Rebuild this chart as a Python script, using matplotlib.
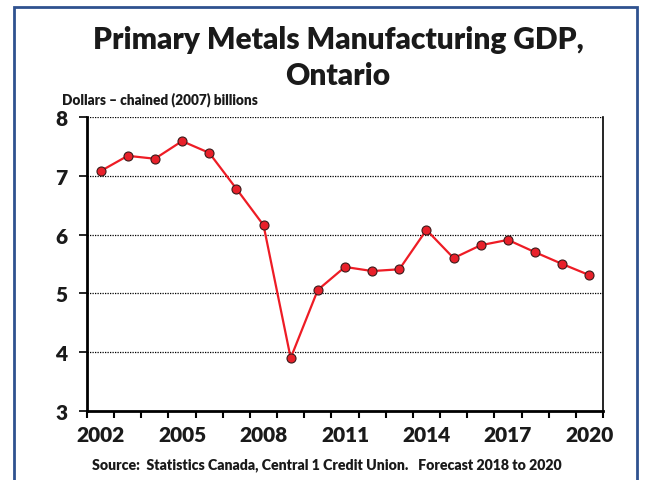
import matplotlib.pyplot as plt
from matplotlib.patches import Rectangle
import numpy as np

years = list(range(2002, 2021))
gdp = [7.08, 7.34, 7.29, 7.59, 7.39, 6.78, 6.16, 3.90, 5.06, 5.45,
       5.38, 5.41, 6.08, 5.60, 5.82, 5.91, 5.70, 5.50, 5.31]
tick_years = [2002, 2005, 2008, 2011, 2014, 2017, 2020]
yticks = [3, 4, 5, 6, 7, 8]

plt.rcParams['font.family'] = ['Lato', 'DejaVu Sans']
txt = '#1a1a1a'

fig = plt.figure(figsize=(6.51, 4.81), dpi=100)
fig.patches.append(Rectangle((14/651, -0.05), 623/651, 1.05 - 8/481, transform=fig.transFigure,
                             fill=False, edgecolor='#2f528f', linewidth=2))

ax = fig.add_axes([87/651, 1 - 412/481, 516/651, 294/481])
x = np.arange(len(years))
ax.plot(x, gdp, color='#ee1c25', linewidth=1.6, marker='o', markersize=6.5,
        markerfacecolor='#e8202a', markeredgecolor='#3a1a1a', markeredgewidth=0.8, zorder=3)

ax.set_xlim(-0.5, len(years) - 0.5)
ax.set_ylim(3, 8)
ax.set_xticks(np.arange(len(years) + 1) - 0.5)
ax.set_xticklabels([])
ax.set_xticks([years.index(y) for y in tick_years], minor=True)
ax.set_xticklabels([str(y) for y in tick_years], minor=True, fontsize=15, fontweight='heavy', color=txt)
ax.tick_params(axis='x', which='major', length=5, width=1.5, direction='out')
ax.tick_params(axis='x', which='minor', length=0, pad=10)
ax.set_yticks(yticks)
ax.set_yticklabels([str(v) for v in yticks], fontsize=15, fontweight='heavy', color=txt)
ax.tick_params(axis='y', length=6, width=1.2, direction='out', pad=8)

for v in yticks[1:]:
    ax.axhline(v, color='black', linestyle=(0, (1, 1)), linewidth=0.9, zorder=1)
ax.spines['top'].set_visible(False)
ax.spines['left'].set_linewidth(2)
ax.spines['bottom'].set_linewidth(2)
ax.spines['right'].set_linewidth(1.2)

fig.text(338/651, 1 - 40/481, 'Primary Metals Manufacturing GDP,', ha='center', va='center',
         fontsize=21.5, fontweight='heavy', color=txt)
fig.text(338/651, 1 - 76/481, 'Ontario', ha='center', va='center',
         fontsize=21.5, fontweight='heavy', color=txt)
fig.text(62/651, 1 - 100/481, 'Dollars \u2013 chained (2007) billions', ha='left', va='center',
         fontsize=9.8, fontweight='heavy', color=txt)
fig.text(327/651, 1 - 465/481, 'Source:  Statistics Canada, Central 1 Credit Union.   Forecast 2018 to 2020',
         ha='center', va='center', fontsize=10.2, fontweight='heavy', color=txt)

fig.savefig('out.png', dpi=100)
